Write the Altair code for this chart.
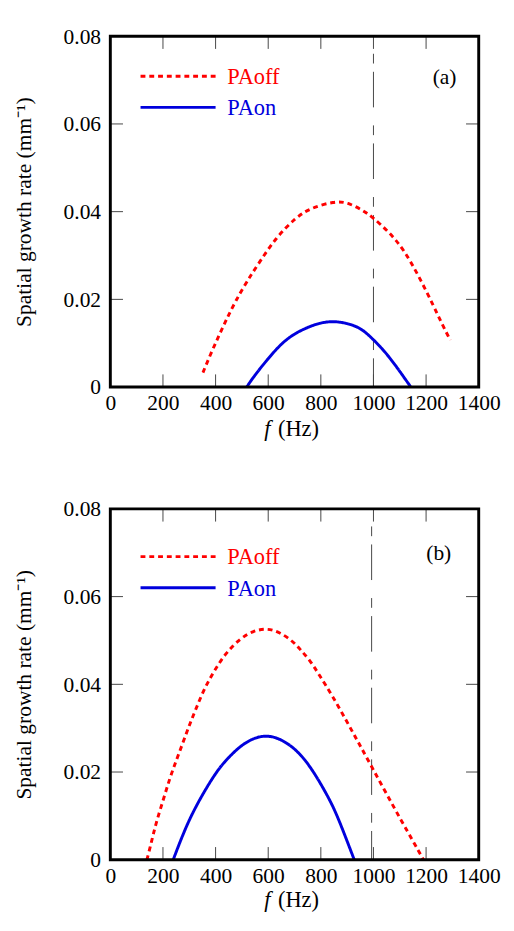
import altair as alt
import pandas as pd

FONT = "Liberation Serif, Times New Roman, serif"
W, H = 378, 360

# ---- data ----
a_off_f = [352, 383, 414, 445, 476, 519, 568, 630, 704, 759, 853, 902, 957, 994, 1062, 1117, 1173, 1228, 1261, 1292]
a_off_g = [0.0033, 0.0078, 0.0119, 0.0159, 0.0196, 0.0241, 0.0286, 0.0341, 0.0386, 0.0408, 0.0424, 0.0421, 0.0404, 0.0389, 0.0352, 0.0312, 0.0252, 0.0186, 0.0143, 0.0107]
a_on_f = [518, 550, 593, 630, 667, 710, 753, 795, 837, 880, 926, 960, 988, 1025, 1062, 1100, 1142]
a_on_g = [0.0, 0.0028, 0.0060, 0.0086, 0.0108, 0.0125, 0.0137, 0.0146, 0.0150, 0.0148, 0.0141, 0.0130, 0.0115, 0.0093, 0.0067, 0.0036, 0.0]

b_off_f = [139, 152, 164, 177, 202, 226, 251, 276, 301, 326, 357, 394, 438, 494, 544, 594, 644, 694, 724, 761, 793, 843, 898, 945, 995, 1050, 1104, 1150, 1190]
b_off_g = [0.0, 0.0030, 0.0060, 0.0090, 0.0138, 0.0186, 0.0227, 0.0267, 0.0308, 0.0345, 0.0390, 0.0430, 0.0471, 0.0505, 0.0522, 0.0528, 0.0519, 0.0498, 0.0478, 0.0453, 0.0422, 0.0375, 0.0316, 0.0265, 0.0210, 0.0150, 0.0091, 0.0043, 0.0]
b_on_f = [239, 270, 307, 357, 407, 444, 506, 587, 668, 743, 817, 855, 890, 927]
b_on_g = [0.0, 0.0049, 0.0101, 0.0156, 0.0204, 0.0230, 0.0267, 0.0288, 0.0271, 0.0230, 0.0156, 0.0111, 0.0058, 0.0]

series_names = ["PAoff", "PAon"]
series_colors = ["#ff0000", "#0000dd"]
x_ticks = [0, 200, 400, 600, 800, 1000, 1200, 1400]
y_ticks = [0, 0.02, 0.04, 0.06, 0.08]
x_inner_ticks = [200, 400, 600, 800, 1000, 1200]
y_inner_ticks = [0.02, 0.04, 0.06]
vlines = [1000, 993]
tags = ["(a)", "(b)"]

xs = alt.Scale(domain=[0, 1400], nice=False, zero=False)
ys = alt.Scale(domain=[0, 0.08], nice=False)

xaxis = alt.Axis(values=x_ticks, format="d", labelFont=FONT, labelFontSize=22, labelColor="black",
                 tickSize=0, domain=False, grid=False, title=None, labelPadding=6,
                 labelOverlap=False, labelFlush=False)
yaxis = alt.Axis(values=y_ticks, labelFont=FONT, labelFontSize=22, labelColor="black",
                 tickSize=0, domain=False, grid=False, labelPadding=10,
                 labelExpr="datum.value == 0 ? '0' : format(datum.value, '.2f')",
                 title="Spatial growth rate (mm⁻¹)", titleFont=FONT, titleFontSize=22,
                 titleFontWeight="normal", titleColor="black", titlePadding=28)


def X(field):
    return alt.X(field, type="quantitative", scale=xs, axis=xaxis)


def Y(field):
    return alt.Y(field, type="quantitative", scale=ys, axis=yaxis)


def panel(off_f, off_g, on_f, on_g, vline, tag, leg_y0, tag_xy, title_y):
    df = pd.concat([
        pd.DataFrame({"f": off_f, "g": off_g, "s": "PAoff"}),
        pd.DataFrame({"f": on_f, "g": on_g, "s": "PAon"}),
    ])
    vdf = pd.DataFrame({"f": [vline]})
    vline_layer = alt.Chart(vdf).mark_rule(
        color="#444", strokeWidth=1, strokeDash=[10, 8.5, 36.5, 18.5], strokeDashOffset=55.5
    ).encode(x=X("f"), y=alt.value(0), y2=alt.value(H))

    lines = alt.Chart(df).mark_line(strokeWidth=3, clip=True, interpolate="basis").encode(
        x=X("f"), y=Y("g"),
        color=alt.Color("s:N", scale=alt.Scale(domain=series_names, range=series_colors), legend=None),
        strokeDash=alt.StrokeDash("s:N", scale=alt.Scale(domain=series_names, range=[[5, 4], [1, 0]]), legend=None),
        detail="s:N",
    )

    xt = pd.DataFrame({"f": x_inner_ticks})
    yt = pd.DataFrame({"g": y_inner_ticks})
    tick_style = dict(color="#444", strokeWidth=1)
    ticks = [
        alt.Chart(xt).mark_rule(**tick_style).encode(x=X("f"), y=alt.value(0), y2=alt.value(13)),
        alt.Chart(xt).mark_rule(**tick_style).encode(x=X("f"), y=alt.value(H - 13), y2=alt.value(H)),
        alt.Chart(yt).mark_rule(**tick_style).encode(y=Y("g"), x=alt.value(0), x2=alt.value(13)),
        alt.Chart(yt).mark_rule(**tick_style).encode(y=Y("g"), x=alt.value(W - 13), x2=alt.value(W)),
    ]

    leg = []
    for i, (name, col) in enumerate(zip(series_names, series_colors)):
        yy = leg_y0 + i * 32
        dash = [5, 4] if name == "PAoff" else [1, 0]
        ldf = pd.DataFrame({"s": [name]})
        leg.append(alt.Chart(ldf).mark_rule(color=col, strokeWidth=3, strokeDash=dash).encode(
            x=alt.value(31), x2=alt.value(108), y=alt.value(yy)))
        leg.append(alt.Chart(ldf).mark_text(font=FONT, fontSize=23, color=col, align="left",
                                            baseline="middle").encode(
            x=alt.value(120), y=alt.value(yy + 1), text="s:N"))

    tdf = pd.DataFrame({"t": [tag]})
    tag_layer = alt.Chart(tdf).mark_text(font=FONT, fontSize=22, color="black", align="center",
                                         baseline="middle").encode(
        x=alt.value(tag_xy[0]), y=alt.value(tag_xy[1]), text="t:N")

    fdf = pd.DataFrame({"t": ["f"]})
    hdf = pd.DataFrame({"t": ["(Hz)"]})
    f_layer = alt.Chart(fdf).mark_text(font=FONT, fontSize=23, fontStyle="italic", color="black",
                                       align="left", baseline="alphabetic").encode(
        x=alt.value(158), y=alt.value(title_y), text="t:N")
    hz_layer = alt.Chart(hdf).mark_text(font=FONT, fontSize=23, color="black",
                                        align="left", baseline="alphabetic").encode(
        x=alt.value(172), y=alt.value(title_y), text="t:N")

    border = alt.Chart(pd.DataFrame({"b": [0]})).mark_rect(
        filled=False, stroke="black", strokeWidth=3).encode(
        x=alt.value(0), x2=alt.value(W), y=alt.value(0), y2=alt.value(H))

    return alt.layer(vline_layer, *ticks, lines, *leg, tag_layer, f_layer, hz_layer, border).properties(
        width=W, height=H)


top = panel(a_off_f, a_off_g, a_on_f, a_on_g, vlines[0], tags[0], 41, (343, 42), 410)
bottom = panel(b_off_f, b_off_g, b_on_f, b_on_g, vlines[1], tags[1], 49, (337, 45), 409)

chart = alt.vconcat(top, bottom, spacing=57).properties(
    padding={"left": 5, "top": 5, "right": 5, "bottom": 0}
).configure(
    font=FONT, background="white",
    view=alt.ViewConfig(stroke="transparent"),
    axis=alt.AxisConfig(labelFont=FONT, titleFont=FONT),
    text=alt.MarkConfig(font=FONT),
)

chart.save("out.html", embed_options={"renderer": "svg", "actions": False})
